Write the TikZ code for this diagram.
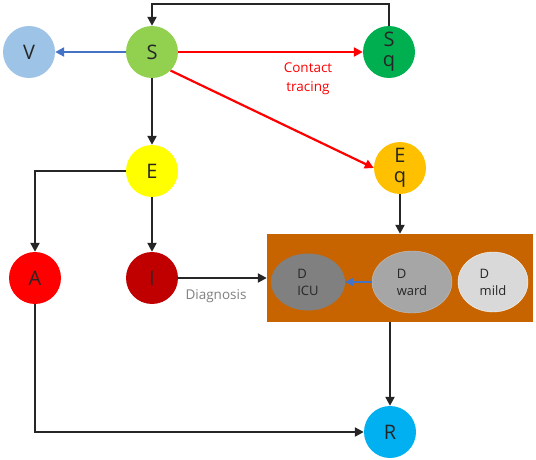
\documentclass[tikz,border=0pt]{standalone}
\usepackage{fontspec}
\setmainfont{Open Sans}
\usetikzlibrary{arrows.meta,shapes.geometric}
\definecolor{txt}{HTML}{262626}
\definecolor{lin}{HTML}{262626}
\definecolor{vcol}{HTML}{9DC3E6}
\definecolor{scol}{HTML}{92D050}
\definecolor{sqcol}{HTML}{00B050}
\definecolor{ecol}{HTML}{FFFF00}
\definecolor{eqcol}{HTML}{FFC000}
\definecolor{acol}{HTML}{FF0000}
\definecolor{icol}{HTML}{C00000}
\definecolor{rcol}{HTML}{00B0F0}
\definecolor{boxcol}{HTML}{C86400}
\definecolor{icucol}{HTML}{808080}
\definecolor{wardcol}{HTML}{A6A6A6}
\definecolor{mildcol}{HTML}{D9D9D9}
\definecolor{bluel}{HTML}{4472C4}
\definecolor{diag}{HTML}{7F7F7F}
\begin{document}
\begin{tikzpicture}[x=1pt,y=-1pt,
    comp/.style={circle,minimum size=52pt,inner sep=0pt,text=txt,
      font=\fontsize{20}{20}\selectfont,align=center},
    hosp/.style={ellipse,inner sep=0pt,text=txt,align=left,
      font=\fontsize{13}{17}\selectfont},
    flow/.style={draw=lin,line width=2.2pt,-{Triangle[length=9pt,width=9pt]}}]
  \useasboundingbox (0,0) rectangle (536,460);
  \node[comp,fill=vcol] (V) at (29,52) {V};
  \node[comp,fill=scol] (S) at (152,52) {S};
  \node[comp,fill=sqcol] (Sq) at (389,52) {S\\q};
  \node[comp,fill=ecol] (E) at (152,171) {E};
  \node[comp,fill=eqcol] (Eq) at (400,168) {E\\q};
  \node[comp,fill=acol] (A) at (35,278) {A};
  \node[comp,fill=icol] (I) at (152,278) {I};
  \node[comp,fill=rcol] (R) at (390,432) {R};
  \node[fill=boxcol,minimum width=266pt,minimum height=88pt,inner sep=0pt] (D) at (400,278) {};
  \node[hosp,fill=icucol,minimum width=74pt,minimum height=57pt] (icu) at (308,282) {D\\ICU};
  \node[hosp,fill=wardcol,draw=wardcol!70!white,minimum width=80pt,minimum height=62pt] (ward) at (412,282) {D\\ward};
  \node[hosp,fill=mildcol,draw=white!80!mildcol,minimum width=70pt,minimum height=60pt] (mild) at (493,282) {D\\mild};
  \coordinate (top) at (152,4);
  \node[text=acol,align=center,font=\fontsize{13.5}{19}\selectfont] (ct) at (308,79) {Contact\\tracing};
  \node[text=diag,font=\fontsize{13.5}{15}\selectfont] (dg) at (216,296) {Diagnosis};
  \begin{scope}[flow]
    \draw (Sq.north) -- (Sq.north |- top) -- (top) -- (S.north);
    \draw[draw=bluel] (S) -- (V);
    \draw[draw=acol] (S) -- (Sq);
    \draw[draw=acol] (S.-45) -- (Eq.west);
    \draw (S) -- (E);
    \draw (E.west) -| (A.north);
    \draw (E) -- (I);
    \draw (I) -- (D.west);
    \draw (Eq) -- (D.north);
    \draw (D.south -| R) -- (R);
    \draw (A.south) |- (R.west);
    \draw[draw=bluel,line width=1.4pt,-{Triangle[length=8pt,width=8pt]}] (ward) -- (icu);
  \end{scope}
\end{tikzpicture}
\end{document}
